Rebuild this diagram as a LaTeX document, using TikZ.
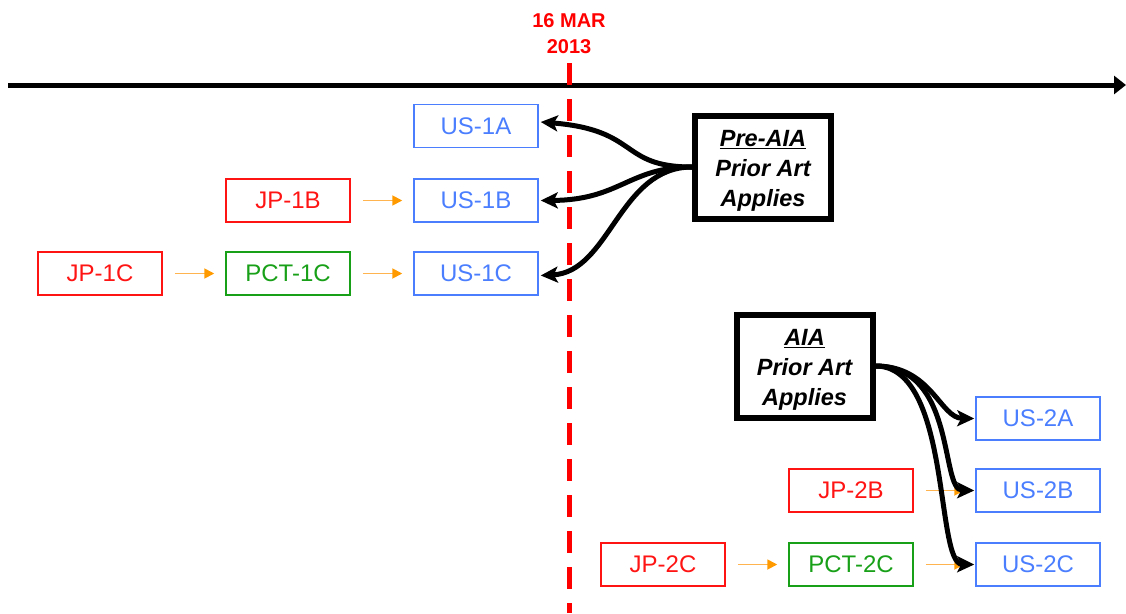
\documentclass[tikz,border=0pt]{standalone}
\usepackage{fontspec}
\setmainfont{Liberation Sans}
\usetikzlibrary{arrows.meta}
\definecolor{usblue}{RGB}{74,126,255}
\definecolor{jpred}{RGB}{255,20,20}
\definecolor{pctgreen}{RGB}{25,160,25}
\definecolor{arrorange}{RGB}{255,180,80}
\definecolor{headorange}{RGB}{255,155,0}
\definecolor{datered}{RGB}{255,0,0}
\tikzset{
  box/.style={draw, line width=1.5pt, minimum width=124pt, minimum height=43pt, inner sep=0pt, font=\fontsize{24}{28}\selectfont},
  usbox/.style={box, draw=usblue, text=usblue},
  jpbox/.style={box, draw=jpred, text=jpred},
  pctbox/.style={box, draw=pctgreen, text=pctgreen},
  lawbox/.style={draw, line width=6pt, minimum width=136pt, minimum height=103pt, inner sep=0pt, align=center, font=\fontsize{23.5}{30}\selectfont\bfseries\itshape},
  oarr/.style={draw=arrorange, line width=1.8pt, -{Triangle[length=10pt,width=10pt,color=headorange]}},
  barr/.style={draw=black, line width=5pt, -{Stealth[length=17pt,width=16pt,inset=4pt]}}
}
\begin{document}
\begin{tikzpicture}[x=1pt,y=-1pt]
\useasboundingbox (0,0) rectangle (1126,613);
% timeline
\coordinate (tl0) at (8,85);
\coordinate (tl1) at (1126,85);
\draw[line width=5pt, -{Triangle[length=12pt,width=18pt]}] (tl0) -- (tl1);
% date line
\coordinate (d0) at (569,63);
\coordinate (d1) at (569,613);
\draw[datered, line width=5pt, dash pattern=on 22pt off 14pt] (d0) -- (d1);
\node[text=datered, align=center, font=\fontsize{20}{26}\selectfont\bfseries] (date) at (569,34) {16 MAR\\2013};
% pre-AIA group
\node[usbox] (us1a) at (476,126) {US-1A};
\node[usbox] (us1b) at (476,200.5) {US-1B};
\node[usbox] (us1c) at (476,273.5) {US-1C};
\node[jpbox] (jp1b) at (288,200.5) {JP-1B};
\node[jpbox] (jp1c) at (100,273.5) {JP-1C};
\node[pctbox] (pct1c) at (288,273.5) {PCT-1C};
\draw[oarr] ([xshift=12pt]jp1b.east) -- ([xshift=-11pt]us1b.west);
\draw[oarr] ([xshift=12pt]jp1c.east) -- ([xshift=-11pt]pct1c.west);
\draw[oarr] ([xshift=12pt]pct1c.east) -- ([xshift=-11pt]us1c.west);
\node[lawbox] (pre) at (763,167) {\rule{0pt}{24pt}\underline{Pre-AIA}\\Prior Art\\Applies};
\draw[barr] (pre.west) .. controls +(-73,0) and (640,130) .. ([xshift=2pt,yshift=4pt]us1a.east);
\draw[barr] (pre.west) .. controls +(-63,0) and (620,200) .. ([xshift=2pt]us1b.east);
\draw[barr] (pre.west) .. controls +(-73,0) and (610,272) .. ([xshift=2pt,yshift=-2pt]us1c.east);
% AIA group
\node[usbox] (us2a) at (1038,418.5) {US-2A};
\node[usbox] (us2b) at (1038,490.5) {US-2B};
\node[usbox] (us2c) at (1038,564.5) {US-2C};
\node[jpbox] (jp2b) at (851,490.5) {JP-2B};
\node[pctbox] (pct2c) at (851,564.5) {PCT-2C};
\node[jpbox] (jp2c) at (663,564.5) {JP-2C};
\draw[oarr] ([xshift=12pt]jp2b.east) -- ([xshift=-11pt]us2b.west);
\draw[oarr] ([xshift=12pt]jp2c.east) -- ([xshift=-11pt]pct2c.west);
\draw[oarr] ([xshift=12pt]pct2c.east) -- ([xshift=-11pt]us2c.west);
\node[lawbox] (aia) at (804.5,366) {\rule{0pt}{24pt}\underline{AIA}\\Prior Art\\Applies};
\draw[barr] (aia.east) .. controls +(56,0) and (940,418) .. ([xshift=-1pt]us2a.west);
\draw[barr] (aia.east) .. controls +(81,0) and (940,490) .. ([xshift=-1pt]us2b.west);
\draw[barr] (aia.east) .. controls +(76,0) and (935,564) .. ([xshift=-1pt]us2c.west);
\end{tikzpicture}
\end{document}
